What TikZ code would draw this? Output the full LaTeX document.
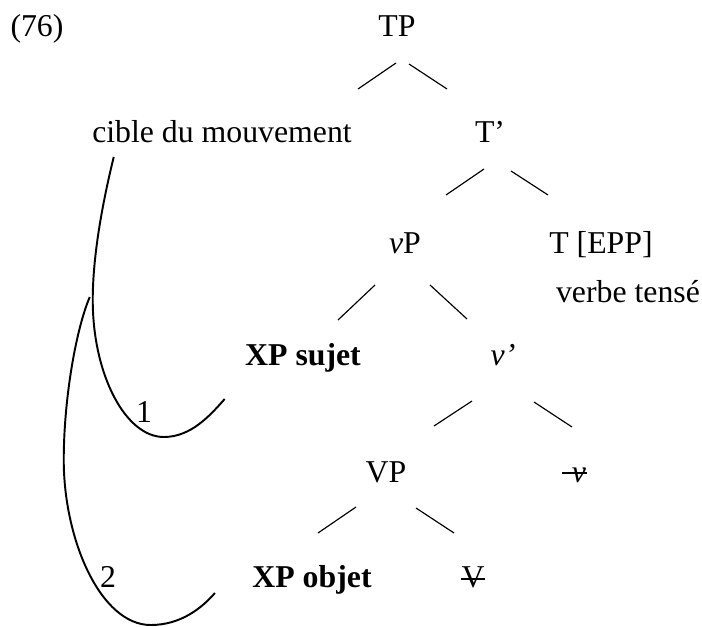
\documentclass[tikz,border=0pt]{standalone}
\usepackage{fontspec}
\setmainfont{Liberation Serif}
\usetikzlibrary{calc}

\begin{document}
\begin{tikzpicture}[
    x=0.387pt, y=-0.387pt, % one unit is one pixel, y runs downwards
    every node/.style={inner sep=0pt, anchor=base, font={\fontsize{12.3}{14}\selectfont}}, % nodes are placed by their baseline
    branch/.style={line width=0.45pt}, % the short strokes of the tree
    move/.style={line width=0.75pt}, % the movement lines
    strike/.style={line width=0.8pt}, % crossing out the traces
  ]
  \useasboundingbox (0,0) rectangle (702,626);

  \node[anchor=base west] (ex) at (10,37) {(76)};
  \node (tp) at (397,37) {TP};
  \node (cible) at (222,143) {cible du mouvement};
  \node (tbar) at (490,143) {T’};
  \node (vp) at (405,253) {\textit{v}P};
  \node (tepp) at (601,253) {T [EPP]};
  \node (tense) at (628,303) {verbe tensé};
  \node (subj) at (303,365) {\textbf{XP sujet}};
  \node (vbar) at (503,365) {\textit{v’}};
  \node (bigvp) at (386,482) {VP};
  \node (vtrace) at (579,482) {\textit{v}};
  \node (obj) at (312,587) {\textbf{XP objet}};
  \node (Vtrace) at (473,587) {V};
  \node (one) at (144,422) {1};
  \node (two) at (108,587) {2};

  % tree strokes
  \draw[branch] ($(tp.base)+(-1,26)$) -- ++(-38,26);
  \draw[branch] ($(tp.base)+(12,27)$) -- ++(38,25);
  \draw[branch] ($(tbar.base)+(-6,26)$) -- ++(-38,26);
  \draw[branch] ($(tbar.base)+(21,28)$) -- ++(37,24);
  \draw[branch] ($(vp.base)+(-30,32)$) -- ++(-37,35);
  \draw[branch] ($(vp.base)+(25,32)$) -- ++(37,34);
  \draw[branch] ($(vbar.base)+(-31,36)$) -- ++(-38,25);
  \draw[branch] ($(vbar.base)+(31,37)$) -- ++(38,25);
  \draw[branch] ($(bigvp.base)+(-30,25)$) -- ++(-38,26);
  \draw[branch] ($(bigvp.base)+(30,26)$) -- ++(38,25);

  % traces
  \draw[strike] ($(vtrace.base west)+(-9,-9)$) -- ($(vtrace.base east)+(0,-9)$);
  \draw[strike] ($(Vtrace.base west)+(0,-8)$) -- ($(Vtrace.base east)+(0,-8)$);

  % movement
  \coordinate (land) at ($(cible.base west)+(22,14)$);
  \coordinate (fork) at ($(land)+(-24,140)$);
  \coordinate (lift1) at ($(subj.base west)+(-20,34)$);
  \coordinate (lift2) at ($(obj.base west)+(-37,6)$);
  \draw[move] (land) .. controls +(-13,53) and +(0,-40) .. ++(-21,143)
    .. controls +(0,75) and +(-38,0) .. ++(71,137)
    .. controls +(27,0) and +(-15,17) .. (lift1);
  \draw[move] (fork) .. controls +(-14,33) and +(0,-60) .. ++(-26,163)
    .. controls +(0,80) and +(-50,0) .. ++(87,165)
    .. controls +(30,0) and +(-13,15) .. (lift2);

\end{tikzpicture}
\end{document}
